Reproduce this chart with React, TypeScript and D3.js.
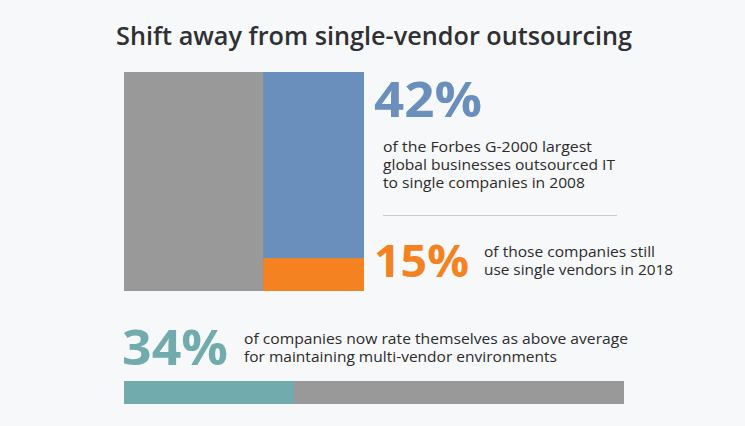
import React from "react";
import * as d3 from "d3";

const title = "Shift away from single-vendor outsourcing";
const outsourcedShare = 42; // % outsourced to single companies in 2008
const stillSingleShare = 15; // % of those still single vendors in 2018
const aboveAvgShare = 34; // % rating themselves above average
const text42 = ["of the Forbes G-2000 largest", "global businesses outsourced IT", "to single companies in 2008"];
const text15 = ["of those companies still", "use single vendors in 2018"];
const text34 = ["of companies now rate themselves as above average", "for maintaining multi-vendor environments"];

const W = 745;
const H = 426;
const GRAY = "#999999";
const BLUE = "#6a8fbd";
const ORANGE = "#f58220";
const TEAL = "#72abae";
const TXT = "#2b2b2b";
const FONT = "'Open Sans', sans-serif";

// rendered widths of the reference lines (layout only)
const w42 = [209, 232, 202];
const w15 = [171, 189];
const w34 = [384, 313];

export default function App() {
  const sq = { x0: 124, x1: 364, y0: 72, y1: 291 };
  const xs = d3.scaleLinear().domain([0, 100]).range([sq.x0, sq.x1]);
  const ys = d3.scaleLinear().domain([0, 100]).range([sq.y1, sq.y0]);
  const blueX = xs(100 - outsourcedShare);
  const orangeY = ys(stillSingleShare);

  const bx = d3.scaleLinear().domain([0, 100]).range([124, 624]);
  const barY = 381;
  const barH = 23;

  return (
    <svg width={W} height={H} style={{ position: "absolute", left: 0, top: 0, background: "#f7f8fa" }}>
      <rect x={0} y={0} width={W} height={H} fill="#f7f8fa" />
      <text x={116} y={45} fontFamily={FONT} fontWeight={600} fontSize={25} fill="#2f3033" textLength={516} lengthAdjust="spacingAndGlyphs">
        {title}
      </text>

      <rect x={xs(0)} y={sq.y0} width={xs(100) - xs(0)} height={sq.y1 - sq.y0} fill={GRAY} />
      <rect x={blueX} y={sq.y0} width={xs(100) - blueX} height={sq.y1 - sq.y0} fill={BLUE} />
      <rect x={blueX} y={orangeY} width={xs(100) - blueX} height={ys(0) - orangeY} fill={ORANGE} />

      <text x={374} y={117} fontFamily={FONT} fontWeight={700} fontSize={49} fill={BLUE} textLength={108} lengthAdjust="spacingAndGlyphs">
        {`${outsourcedShare}%`}
      </text>
      {text42.map((t, i) => (
        <text key={i} x={383} y={152 + i * 18} fontFamily={FONT} fontSize={14} fill={TXT} textLength={w42[i]} lengthAdjust="spacingAndGlyphs">
          {t}
        </text>
      ))}
      <line x1={383} x2={617} y1={215.5} y2={215.5} stroke="#c9cbcf" strokeWidth={1} />

      <text x={374} y={277} fontFamily={FONT} fontWeight={700} fontSize={45} fill={ORANGE} textLength={95} lengthAdjust="spacingAndGlyphs">
        {`${stillSingleShare}%`}
      </text>
      {text15.map((t, i) => (
        <text key={i} x={484} y={257 + i * 18} fontFamily={FONT} fontSize={14} fill={TXT} textLength={w15[i]} lengthAdjust="spacingAndGlyphs">
          {t}
        </text>
      ))}

      <text x={122} y={365} fontFamily={FONT} fontWeight={700} fontSize={49} fill={TEAL} textLength={106} lengthAdjust="spacingAndGlyphs">
        {`${aboveAvgShare}%`}
      </text>
      {text34.map((t, i) => (
        <text key={i} x={244} y={344 + i * 18} fontFamily={FONT} fontSize={14} fill={TXT} textLength={w34[i]} lengthAdjust="spacingAndGlyphs">
          {t}
        </text>
      ))}

      <rect x={bx(0)} y={barY} width={bx(100) - bx(0)} height={barH} fill={GRAY} />
      <rect x={bx(0)} y={barY} width={bx(aboveAvgShare) - bx(0)} height={barH} fill={TEAL} />
    </svg>
  );
}
